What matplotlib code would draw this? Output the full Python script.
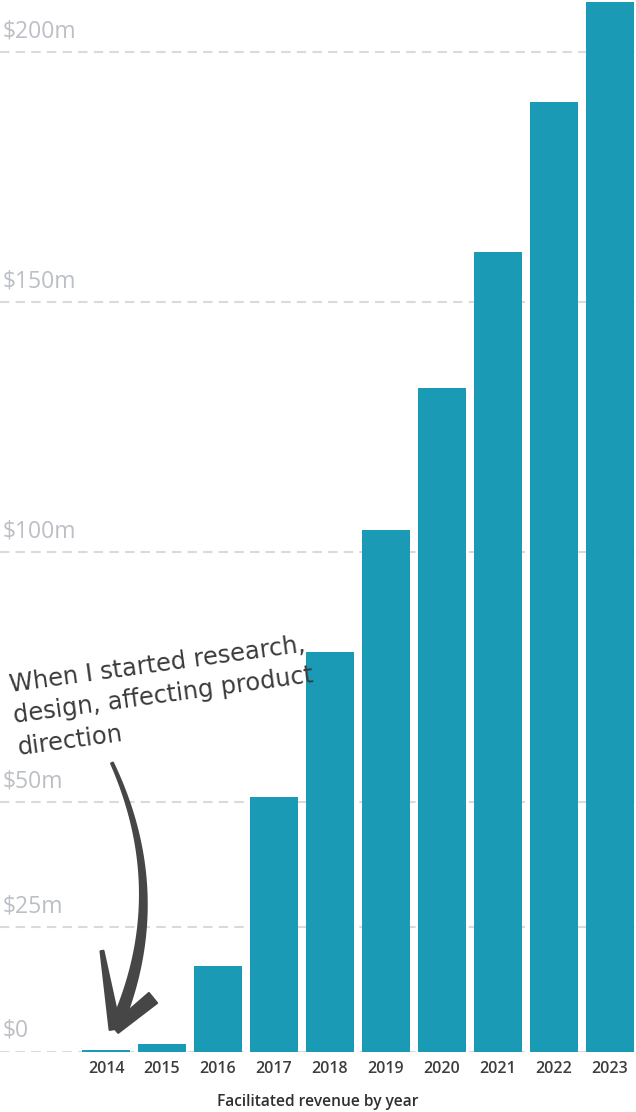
import numpy as np
import matplotlib.pyplot as plt
import matplotlib.transforms as mtransforms
from matplotlib.patches import Polygon

# Facilitated revenue by year, in $m
years = [2014, 2015, 2016, 2017, 2018, 2019, 2020, 2021, 2022, 2023]
revenue = [0.4, 1.6, 17.2, 51, 80, 104.4, 132.8, 160, 190, 210]
grid_values = [0, 25, 50, 100, 150, 200]
grid_labels = ["$0", "$25m", "$50m", "$100m", "$150m", "$200m"]

bar_color = "#1a9ab4"
W, H = 636, 1112
fig = plt.figure(figsize=(W / 100, H / 100), dpi=100)

# axes spans the full width, baseline at 1052px from top
ax = fig.add_axes([0, (H - 1052) / H, 1, 1052 / H])
ax.set_xlim(2012.107, 2023.464)
ax.set_ylim(0, 210.5)
ax.axis("off")

for v in grid_values:
    ax.axhline(v, color="#d9d9de", lw=1.5, dashes=(4.5, 3), zorder=1)

ax.bar(years, revenue, width=0.857, color=bar_color, zorder=2)

trans = mtransforms.blended_transform_factory(ax.transAxes, ax.transData)
for v, lab in zip(grid_values, grid_labels):
    ax.annotate(lab, xy=(0, v), xycoords=trans, xytext=(2, 6.5), textcoords="offset points",
                ha="left", va="bottom", fontsize=16.5, color="#bcbfc6",
                family="Open Sans")

for yr in years:
    ax.annotate(str(yr), xy=(yr, 0), xycoords="data", xytext=(0, -6.5),
                textcoords="offset points", ha="center", va="top",
                fontsize=11.5, color="#3d3d3d", fontweight="semibold", family="Open Sans")

fig.text(318 / W, 1 - 1102 / H, "Facilitated revenue by year", ha="center", va="center",
         fontsize=11.2, color="#2f2f2f", fontweight="semibold", family="Open Sans")

# handwritten note, anchored at the baseline of the last line
fig.text(18 / W, 1 - 747 / H, "When I started research,\ndesign, affecting product\ndirection",
         ha="left", va="baseline", rotation=7.8, rotation_mode="anchor",
         fontsize=17.4, color="#3a3a3a", linespacing=1.42, family="DejaVu Sans")

# hand drawn arrow, in pixel coords measured from the top
px = mtransforms.Affine2D().scale(1 / W, -1 / H).translate(0, 1) + fig.transFigure


def taper(pts, w0, w1):
    pts = np.asarray(pts, float)
    d = np.gradient(pts, axis=0)
    n = np.column_stack([-d[:, 1], d[:, 0]])
    n /= np.linalg.norm(n, axis=1)[:, None]
    w = np.linspace(w0, w1, len(pts))[:, None] / 2
    return np.vstack([pts + n * w, (pts - n * w)[::-1]])


t = np.linspace(0, 1, 60)[:, None]
p0, p1, p2 = np.array([112, 763]), np.array([172, 894]), np.array([117, 1024])
shaft = (1 - t) ** 2 * p0 + 2 * t * (1 - t) * p1 + t ** 2 * p2
arrow_kw = dict(closed=True, facecolor="#464646", edgecolor="#464646", lw=1.5,
                joinstyle="round", transform=px, zorder=5)
fig.patches.append(Polygon(taper(shaft, 2, 11), **arrow_kw))
tip = np.array([115, 1029])
for end, w0, w1 in [((102, 951), 3, 11), ((153, 998), 13, 10)]:
    seg = np.linspace(np.array(end, float), tip, 20)
    fig.patches.append(Polygon(taper(seg, w0, w1), **arrow_kw))

fig.savefig("out.png", dpi=100)
